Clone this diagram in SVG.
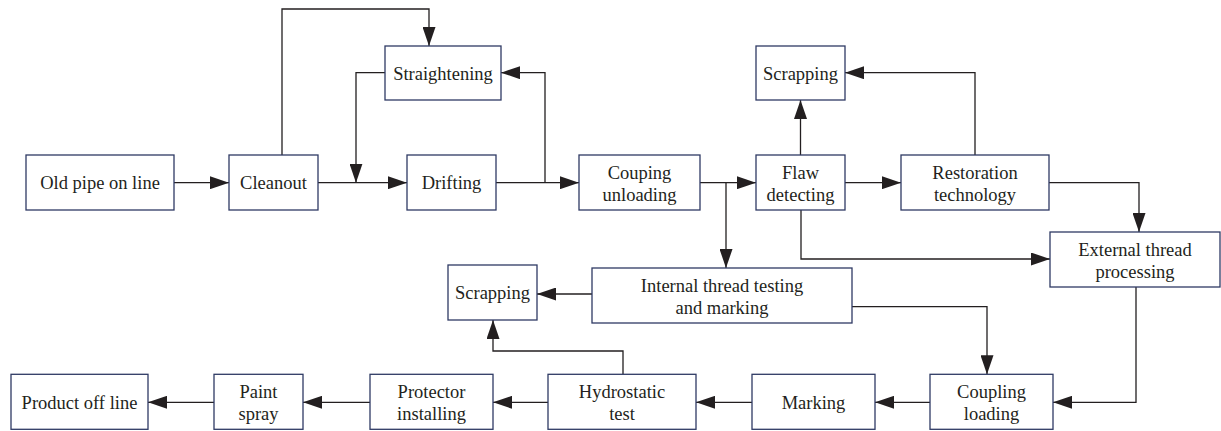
<svg xmlns="http://www.w3.org/2000/svg" width="1221" height="431" viewBox="0 0 1221 431">
<style>
.box{fill:#fff;stroke:#2f3a64;stroke-width:1.3}
text{font-family:'Liberation Serif','Times New Roman',Times,'DejaVu Serif',serif;font-size:18.5px;fill:#231f20;text-anchor:middle}
.c{fill:none;stroke:#231f20;stroke-width:1.3}
.a{marker-end:url(#ah)}
</style>
<defs>
<marker id="ah" markerUnits="userSpaceOnUse" markerWidth="19" markerHeight="13" refX="19" refY="6.5" orient="auto">
<path d="M0,0 L19,6.5 L0,13 z" fill="#231f20"/>
</marker>
</defs>
<rect width="1221" height="431" fill="#fff"/>
<g id="connectors">
<path class="c a" d="M174,182.7 H229"/>
<path class="c a" d="M318,182.7 H407"/>
<path class="c a" d="M282,155 V9 H429 V46"/>
<path class="c a" d="M385,72.7 H356 V182.7"/>
<path class="c a" d="M496,182.7 H579"/>
<path class="c a" d="M545,182.7 V72.7 H501"/>
<path class="c a" d="M700,182.7 H756"/>
<path class="c a" d="M726,182.7 V268"/>
<path class="c a" d="M800.5,155 V100"/>
<path class="c a" d="M845,182.7 H901"/>
<path class="c a" d="M975,155 V72.7 H845"/>
<path class="c a" d="M1049,182.7 H1139 V232"/>
<path class="c a" d="M801,210 V259 H1050"/>
<path class="c a" d="M592,294 H537"/>
<path class="c a" d="M852,306.7 H987 V374.3"/>
<path class="c a" d="M1136,287 V402.3 H1053"/>
<path class="c a" d="M930,402.3 H875"/>
<path class="c a" d="M752,402.3 H696"/>
<path class="c a" d="M548,402.3 H493"/>
<path class="c a" d="M623,374.3 V351 H493 V320"/>
<path class="c a" d="M370,402.3 H303"/>
<path class="c a" d="M214,402.3 H148"/>
</g>
<g id="old-pipe"><rect class="box" x="26" y="155" width="148" height="55"/><text x="100" y="189">Old pipe on line</text></g>
<g id="cleanout"><rect class="box" x="229" y="155" width="89" height="55"/><text x="273.5" y="189">Cleanout</text></g>
<g id="straightening"><rect class="box" x="385" y="46" width="116" height="54"/><text x="443" y="79.5">Straightening</text></g>
<g id="drifting"><rect class="box" x="407" y="155" width="89" height="55"/><text x="451.5" y="189">Drifting</text></g>
<g id="couping-unloading"><rect class="box" x="579" y="155" width="121" height="55"/><text x="639.5" y="179">Couping</text><text x="639.5" y="200.5">unloading</text></g>
<g id="flaw-detecting"><rect class="box" x="756" y="155" width="89" height="55"/><text x="800.5" y="179">Flaw</text><text x="800.5" y="200.5">detecting</text></g>
<g id="scrapping-top"><rect class="box" x="756" y="46" width="89" height="54"/><text x="800.5" y="79.5">Scrapping</text></g>
<g id="restoration"><rect class="box" x="901" y="155" width="148" height="55"/><text x="975" y="179">Restoration</text><text x="975" y="200.5">technology</text></g>
<g id="external-thread"><rect class="box" x="1050" y="232" width="170" height="55"/><text x="1135" y="256">External thread</text><text x="1135" y="277.5">processing</text></g>
<g id="internal-thread"><rect class="box" x="592" y="268" width="260" height="55"/><text x="722" y="292.3">Internal thread testing</text><text x="722" y="314">and marking</text></g>
<g id="scrapping-low"><rect class="box" x="448" y="265" width="89" height="55"/><text x="492.5" y="299">Scrapping</text></g>
<g id="coupling-loading"><rect class="box" x="930" y="374.3" width="123" height="55"/><text x="991.5" y="398">Coupling</text><text x="991.5" y="419.5">loading</text></g>
<g id="marking"><rect class="box" x="752" y="374.3" width="123" height="55"/><text x="813.5" y="408.5">Marking</text></g>
<g id="hydrostatic"><rect class="box" x="548" y="374.3" width="148" height="55"/><text x="622" y="398">Hydrostatic</text><text x="622" y="419.5">test</text></g>
<g id="protector"><rect class="box" x="370" y="374.3" width="123" height="55"/><text x="431.5" y="398">Protector</text><text x="431.5" y="419.5">installing</text></g>
<g id="paint-spray"><rect class="box" x="214" y="374.3" width="89" height="55"/><text x="258.5" y="398">Paint</text><text x="258.5" y="419.5">spray</text></g>
<g id="product-off"><rect class="box" x="11" y="374.3" width="137" height="55"/><text x="79.5" y="408.5">Product off line</text></g>
</svg>
